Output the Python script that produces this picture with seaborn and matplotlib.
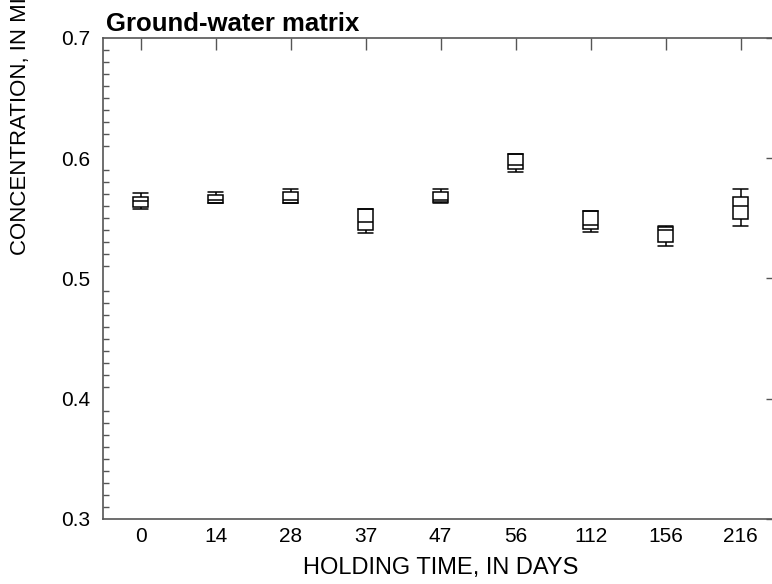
import matplotlib
matplotlib.use('Agg')
import matplotlib.pyplot as plt
import numpy as np
import pandas as pd
import seaborn as sns
from matplotlib.ticker import MultipleLocator, FormatStrFormatter

# holding time categories (days)
days = ['0', '14', '28', '37', '47', '56', '112', '156', '216']

# box summaries: low whisker, q1, median, q3, high whisker
whisker_low = [0.5578, 0.5628, 0.5630, 0.5376, 0.5625, 0.5886, 0.5387, 0.5268, 0.5437]
quart_low = [0.5597, 0.5630, 0.5630, 0.5403, 0.5639, 0.5911, 0.5409, 0.5303, 0.5495]
medians = [0.5642, 0.5655, 0.5655, 0.5470, 0.5653, 0.5947, 0.5445, 0.5403, 0.5603]
quart_high = [0.5675, 0.5694, 0.5717, 0.5575, 0.5722, 0.6033, 0.5559, 0.5431, 0.5680]
whisker_high = [0.5708, 0.5717, 0.5747, 0.5575, 0.5742, 0.6038, 0.5559, 0.5436, 0.5747]

# five values per group reproduce the box (q1/q3 = 2nd/4th of 5 with linear interp)
rows = []
for i, d in enumerate(days):
    for v in (whisker_low[i], quart_low[i], medians[i], quart_high[i], whisker_high[i]):
        rows.append({'days': d, 'conc': v})
df = pd.DataFrame(rows)

sns.set_style('white')
plt.rcParams['font.family'] = ['Liberation Sans', 'DejaVu Sans']
plt.rcParams['text.color'] = 'black'
plt.rcParams['xtick.color'] = '#555555'
plt.rcParams['ytick.color'] = '#555555'
plt.rcParams['xtick.labelcolor'] = 'black'
plt.rcParams['ytick.labelcolor'] = 'black'

fig = plt.figure(figsize=(7.72, 5.84), dpi=100)
ax = fig.add_axes([103 / 772, 65 / 584, 675 / 772, 481 / 584])

sns.boxplot(data=df, x='days', y='conc', order=days, width=0.2, whis=(0, 100),
            color='white', linecolor='black', linewidth=1.1, fill=True,
            capwidths=0.2, showfliers=False, ax=ax)

ax.set_xlim(-0.5, len(days) - 0.5)
ax.set_ylim(0.3, 0.7)
ax.yaxis.set_major_locator(MultipleLocator(0.1))
ax.yaxis.set_minor_locator(MultipleLocator(0.01))
ax.yaxis.set_major_formatter(FormatStrFormatter('%.1f'))

for s in ax.spines.values():
    s.set_visible(True)
    s.set_color('#555555')
    s.set_linewidth(1.2)

ax.tick_params(axis='both', which='major', direction='in', length=8.5, width=1.0,
               labelsize=15, top=True, right=True)
ax.tick_params(axis='y', which='minor', direction='in', length=4.3, width=1.0,
               left=True, right=True)
ax.tick_params(axis='x', pad=6)
ax.tick_params(axis='y', pad=9)

ax.set_xlabel('HOLDING TIME, IN DAYS', fontsize=17, color='black')
ax.xaxis.set_label_coords(0.5, -0.078)
ax.set_ylabel('')

fig.text(21 / 772, 1 - 255 / 584, 'CONCENTRATION, IN MICROGRAMS PER LITER',
         rotation=90, ha='center', va='bottom', fontsize=16)
fig.text(106 / 772, 1 - 31 / 584, 'Ground-water matrix', fontsize=18.5,
         fontweight='bold', ha='left', va='baseline')

fig.savefig('out.png', dpi=100)
